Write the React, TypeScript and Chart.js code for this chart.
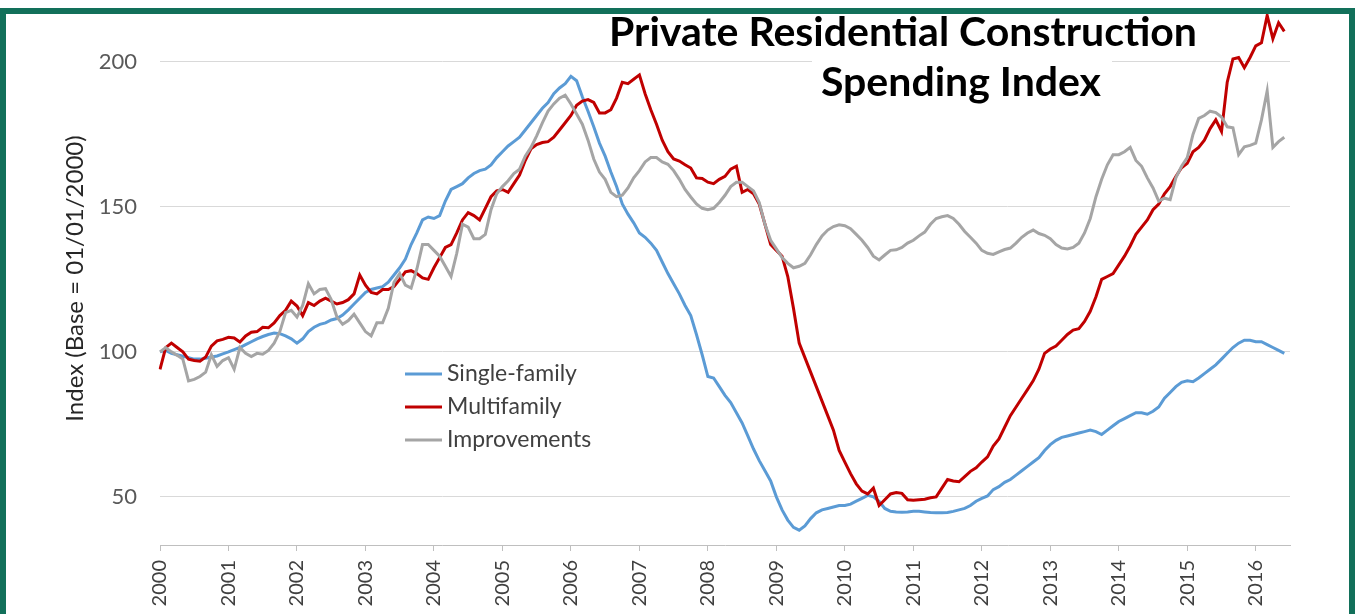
import React, { useEffect, useRef } from "react";
import { Chart, registerables } from "chart.js";

Chart.register(...registerables);

// ---------- data ----------
const START_YEAR = 2000;
const MONTH_COUNT = 199; // Jan 2000 .. Jul 2016 (axis extent)

const yearLabels = [
  "2000", "2001", "2002", "2003", "2004", "2005", "2006", "2007", "2008",
  "2009", "2010", "2011", "2012", "2013", "2014", "2015", "2016",
];

const yTickValues = [50, 100, 150, 200];

const seriesNames = ["Single-family", "Multifamily", "Improvements"];

const singleFamily = [
  100, 100.5, 99.5, 99, 98.5, 98, 97.5, 97.5, 97.8, 98.2, 98.6, 99.3,
  100, 100.8, 101.5, 102.5, 103.5, 104.5, 105.3, 106, 106.5, 106.3, 105.5, 104.5,
  103, 104.5, 107, 108.5, 109.5, 110, 111, 111.5, 112.7, 114.5, 116.5, 118.5,
  120.5, 121.5, 122, 122.5, 124, 126.5, 129, 132, 137, 141, 145.5, 146.5,
  146, 147, 152, 156, 157, 158, 160, 161.5, 162.5, 163, 164.5, 167,
  169, 171, 172.5, 174, 176.5, 179, 181.5, 184, 186, 189, 191, 192.5,
  195, 193.5, 188, 183, 177.6, 172, 167.5, 162, 157, 151, 147.5, 144.5,
  141, 139.5, 137.5, 135, 131, 127, 123.5, 120, 116, 112.5, 106, 99,
  91.5, 91, 88, 85, 82.5, 79, 75.5, 71, 66.5, 62.5, 59, 55.5,
  50, 45.5, 42, 39.5, 38.5, 40, 42.5, 44.5, 45.5, 46, 46.5, 47,
  47, 47.5, 48.5, 49.5, 50.5, 50, 48.5, 46, 45, 44.8, 44.7, 44.8,
  45, 45, 44.8, 44.6, 44.5, 44.5, 44.6, 45, 45.5, 46, 47, 48.5,
  49.5, 50.3, 52.5, 53.5, 55, 56, 57.5, 59, 60.5, 62, 63.5, 66,
  68, 69.5, 70.5, 71, 71.5, 72, 72.5, 73, 72.5, 71.5, 73, 74.5,
  76, 77, 78, 79, 79, 78.5, 79.5, 81, 84, 86, 88, 89.5,
  90, 89.7, 91, 92.5, 94, 95.5, 97.5, 99.5, 101.5, 103, 104, 104,
  103.5, 103.5, 102.5, 101.5, 100.5, 99.5,
];

const multifamily = [
  94, 101.5, 103, 101.5, 100, 97.5, 97, 96.8, 98.2, 102, 103.8, 104.3,
  105, 104.8, 103.4, 105.5, 106.8, 107, 108.5, 108.3, 110, 112.5, 114.3, 117.5,
  115.8, 112.5, 117, 116, 117.5, 118.5, 117.5, 116.5, 117, 118, 120, 126.5,
  123, 120.5, 120, 121.5, 121.5, 122.5, 125, 127.6, 128, 127, 125.5, 125,
  129, 132.5, 136, 137, 141, 145.5, 148, 147, 145.5, 149.5, 153.5, 155.5,
  156, 155, 158, 161, 166, 170, 171.5, 172.2, 172.5, 174, 176.5, 179,
  181.5, 185, 186.5, 187, 186, 182.4, 182.4, 183.5, 187.5, 193, 192.5, 194,
  195.5, 189, 183.5, 178.5, 173, 169, 166.5, 165.8, 164.5, 163.4, 160, 159.8,
  158.5, 158, 159.5, 160.5, 163, 164, 155, 156, 154.5, 151, 144, 137,
  135, 133, 126, 115, 103, 98, 93, 88, 83, 78, 73, 66,
  62, 58, 54.5, 52, 51, 53, 47, 49, 51, 51.5, 51.2, 49,
  48.8, 49, 49.2, 49.7, 50, 53, 56, 55.5, 55.2, 57, 58.8, 60,
  62, 63.8, 67.5, 70, 74, 78, 81, 84, 87, 90, 94, 99.5,
  101, 102, 104, 106, 107.5, 108, 110.5, 114, 119, 125, 126, 127,
  130, 133, 136.5, 140.5, 143, 145.5, 149, 151, 154.5, 157, 160.5, 163.5,
  165, 169, 170.5, 173, 177, 180, 176, 193, 201, 201.5, 198, 201.5,
  205.5, 206.6, 216, 208, 213.5, 210.5,
];

const improvements = [
  100, 101.5, 100, 98.8, 97.5, 90, 90.5, 91.5, 93, 99, 95, 97,
  98, 94, 101.5, 99.5, 98.4, 99.5, 99.2, 100.5, 103, 107, 113.5, 114.3,
  112, 116, 123.5, 120, 121.5, 121.8, 118, 112, 109.5, 110.8, 113, 110,
  107, 105.5, 110, 110, 115, 124, 127, 123, 122, 128.5, 137, 137,
  135, 133, 129.5, 126, 134, 144, 143, 139, 139, 140.5, 149, 154.5,
  157, 159, 161.5, 163, 167.5, 170.5, 174.5, 179, 183, 185.5, 187.5, 188.5,
  185.5, 182, 178.5, 173, 166.5, 162, 159.5, 155, 153.5, 154, 156.5, 160,
  162.5, 165.5, 167, 167, 165.5, 164.7, 162.5, 159.5, 156, 153.4, 151, 149.5,
  149, 149.5, 151.5, 154, 157, 158.5, 158.5, 157, 155.5, 151.5, 144, 138.5,
  135.5, 132.5, 130.5, 129, 129.5, 130.5, 133.5, 137, 140, 142, 143.2, 143.8,
  143.5, 142.5, 140.5, 138.5, 136, 133, 131.7, 133.4, 135, 135.2, 136, 137.5,
  138.5, 140, 141.3, 144, 146, 146.6, 147, 146, 144, 141.5, 139.5, 137.5,
  135, 134, 133.6, 134.5, 135.3, 135.8, 137.5, 139.5, 141, 142, 140.8, 140.2,
  139, 137, 135.8, 135.5, 136, 137.5, 141, 146, 153.5, 159.5, 164.5, 168,
  168, 169, 170.5, 166, 164, 160, 156.5, 152, 153, 152.5, 160, 164,
  167, 175, 180.5, 181.5, 183, 182.5, 181, 177.6, 177.3, 168, 170.7, 171.2,
  172, 180, 190, 170.5, 172.5, 174,
];

const monthLabels: string[] = Array.from({ length: MONTH_COUNT }, (_, i) =>
  `${START_YEAR + Math.floor(i / 12)}-${String((i % 12) + 1).padStart(2, "0")}`
);

// ---------- styles ----------
const COLORS = ["#5B9BD5", "#C00000", "#A5A5A5"];
const FONT = "Lato";
const TITLE_LINES = [
  { text: "Private Residential Construction", x: 903, y: 33 },
  { text: "Spending Index", x: 961, y: 83 },
];

const overlayPlugin = {
  id: "overlay",
  afterDatasetsDraw(chart: any) {
    const ctx = chart.ctx as CanvasRenderingContext2D;
    ctx.save();
    // title (white box hides gridline behind second line)
    ctx.fillStyle = "#ffffff";
    ctx.fillRect(812, 58, 300, 46);
    ctx.fillStyle = "#000000";
    ctx.font = `bold 41px ${FONT}`;
    ctx.textAlign = "center";
    ctx.textBaseline = "middle";
    TITLE_LINES.forEach((l) => ctx.fillText(l.text, l.x, l.y));

    // legend
    const lx = 405;
    const ly = 374;
    const gap = 33;
    ctx.font = `23px ${FONT}`;
    ctx.textAlign = "left";
    chart.data.datasets.forEach((ds: any, i: number) => {
      const y = ly + i * gap;
      ctx.strokeStyle = ds.borderColor;
      ctx.lineWidth = 3;
      ctx.beginPath();
      ctx.moveTo(lx, y);
      ctx.lineTo(lx + 37, y);
      ctx.stroke();
      ctx.fillStyle = "#404040";
      ctx.fillText(ds.label, lx + 42, y);
    });
    ctx.restore();
  },
};

export default function App() {
  const canvasRef = useRef<HTMLCanvasElement | null>(null);

  useEffect(() => {
    const canvas = canvasRef.current;
    if (!canvas) return;
    const seriesData = [singleFamily, multifamily, improvements];
    const chart = new Chart(canvas, {
      type: "line",
      data: {
        labels: monthLabels,
        datasets: seriesData.map((d, i) => ({
          label: seriesNames[i],
          data: d,
          borderColor: COLORS[i],
          backgroundColor: COLORS[i],
          borderWidth: 3,
          pointRadius: 0,
          tension: 0,
          fill: false,
          order: 2 - i,
        })),
      },
      options: {
        responsive: false,
        animation: false,
        devicePixelRatio: 1,
        layout: { padding: { left: 0, top: 12, right: 65, bottom: 0 } },
        plugins: {
          legend: { display: false },
          tooltip: { enabled: false },
        },
        scales: {
          x: {
            type: "category",
            offset: false,
            grid: {
              drawOnChartArea: false,
              tickLength: 6,
              color: "#BFBFBF",
              tickColor: "#BFBFBF",
            },
            border: { display: true, color: "#BFBFBF", width: 1 },
            ticks: {
              autoSkip: false,
              minRotation: 90,
              maxRotation: 90,
              padding: 9,
              color: "#404040",
              font: { family: FONT, size: 20 },
              callback: (value: any) => yearLabels[Math.floor(Number(value) / 12)],
            },
            afterBuildTicks: (scale: any) => {
              scale.ticks = scale.ticks.filter((t: any) => t.value % 12 === 0);
            },
            afterFit: (scale: any) => {
              scale.height = 69;
              scale.paddingLeft = 0;
              scale.paddingRight = 0;
            },
          },
          y: {
            min: 33.4,
            max: 217.2,
            afterBuildTicks: (scale: any) => {
              scale.ticks = yTickValues.map((v) => ({ value: v }));
            },
            grid: { color: "#D9D9D9", drawTicks: false, lineWidth: 1 },
            border: { display: false },
            ticks: {
              padding: 23,
              color: "#595959",
              font: { family: FONT, size: 22 },
            },
            title: {
              display: true,
              text: "Index (Base = 01/01/2000)",
              color: "#262626",
              font: { family: FONT, size: 24 },
              padding: { top: 61, bottom: 0 },
            },
            afterFit: (scale: any) => {
              scale.width = 160;
              scale.paddingTop = 0;
              scale.paddingBottom = 0;
            },
          },
        },
      },
      plugins: [overlayPlugin],
    });
    return () => chart.destroy();
  }, []);

  return (
    <div style={{ position: "fixed", inset: 0, overflow: "hidden", background: "#ffffff" }}>
      <canvas
        ref={canvasRef}
        width={1355}
        height={614}
        style={{ position: "absolute", left: 0, top: 0, width: 1355, height: 614 }}
      />
      <div
        style={{
          position: "absolute",
          left: 0,
          top: 8,
          width: 1355,
          height: 700,
          boxSizing: "border-box",
          border: "6px solid #12705A",
          pointerEvents: "none",
        }}
      />
    </div>
  );
}
